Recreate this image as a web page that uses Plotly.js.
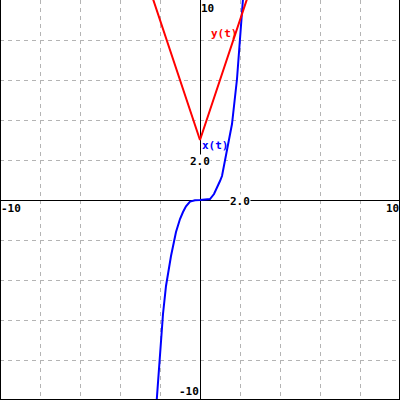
<!DOCTYPE html>
<html>
<head>
<meta charset="utf-8">
<script src="https://cdn.plot.ly/plotly-3.0.1.min.js"></script>
<style>html,body{margin:0;padding:0;background:#fff;}#chart{width:400px;height:400px;}</style>
</head>
<body>
<div id="chart"></div>
<script>
// x(t) curve, points
const xtX = [-2.2, -2.1, -2.0, -1.85, -1.7, -1.45, -1.2, -1.0, -0.85, -0.7, -0.5, -0.25, 0, 0.25, 0.5, 0.7, 0.85, 1.0, 1.1, 1.35, 1.6, 1.85, 2.0, 2.15, 2.25];
const xtY = [-10.5, -9.0, -7.4, -5.7, -4.3, -2.8, -1.6, -0.95, -0.6, -0.32, -0.08, -0.01, 0, 0.01, 0.05, 0.3, 0.6, 0.95, 1.2, 2.55, 3.8, 6.05, 8.0, 10.3, 11.4];
// y(t) curve (V shape)
const ytX = [-2.5, 0, 2.5];
const ytY = [10.5, 3, 10.5];
// labels
const axisRange = [-10, 10];
const gridStep = 2;
const labelFont = {family: "DejaVu Sans Mono, Liberation Mono, monospace", size: 11, color: "#000", weight: "bold"};

const traces = [
  {x: xtX, y: xtY, mode: "lines", line: {color: "#0000ff", width: 2}, hoverinfo: "skip"},
  {x: ytX, y: ytY, mode: "lines", line: {color: "#ff0000", width: 2}, hoverinfo: "skip"}
];

function ann(text, x, y, xa, ya, extra) {
  return Object.assign({text: text, x: x, y: y, xref: "x", yref: "y", xanchor: xa, yanchor: ya,
    showarrow: false, font: labelFont, borderpad: 0}, extra || {});
}

const annotations = [
  ann("10", 0, 10, "left", "top", {xshift: 0, yshift: -1}),
  ann("-10", 0, -10, "right", "bottom", {xshift: 0, yshift: 1}),
  ann("-10", -10, 0, "left", "top", {xshift: 0, yshift: -1}),
  ann("10", 10, 0, "right", "top", {xshift: 0, yshift: -1}),
  ann("2.0", 2, 0, "center", "middle", {bgcolor: "#fff", yshift: -1}),
  ann("2.0", 0, 2, "center", "middle", {bgcolor: "#fff", yshift: -1}),
  ann("x(t)", 0.75, 2.75, "center", "middle", {font: Object.assign({}, labelFont, {color: "#0000ff"})}),
  ann("y(t)", 1.2, 8.35, "center", "middle", {font: Object.assign({}, labelFont, {color: "#ff0000"})})
];

const axisCommon = {
  range: axisRange, dtick: gridStep, tick0: 0, showticklabels: false, ticks: "",
  showgrid: true, gridcolor: "#b4b4b4", gridwidth: 1, griddash: "4px,4px",
  zeroline: true, zerolinecolor: "#000", zerolinewidth: 1, showline: false, fixedrange: true
};

const layout = {
  width: 400, height: 400, margin: {l: 0, r: 0, t: 0, b: 0},
  paper_bgcolor: "#fff", plot_bgcolor: "#fff", showlegend: false,
  xaxis: Object.assign({}, axisCommon),
  yaxis: Object.assign({}, axisCommon),
  annotations: annotations,
  shapes: [
    {type: "line", xref: "paper", yref: "paper", x0: 0, x1: 0, y0: 0, y1: 1, line: {color: "#000", width: 2}},
    {type: "line", xref: "paper", yref: "paper", x0: 1, x1: 1, y0: 0, y1: 1, line: {color: "#000", width: 2}},
    {type: "line", xref: "paper", yref: "paper", x0: 0, x1: 1, y0: 0, y1: 0, line: {color: "#000", width: 2}}
  ]
};

Plotly.newPlot("chart", traces, layout, {staticPlot: true, displayModeBar: false});
</script>
</body>
</html>
